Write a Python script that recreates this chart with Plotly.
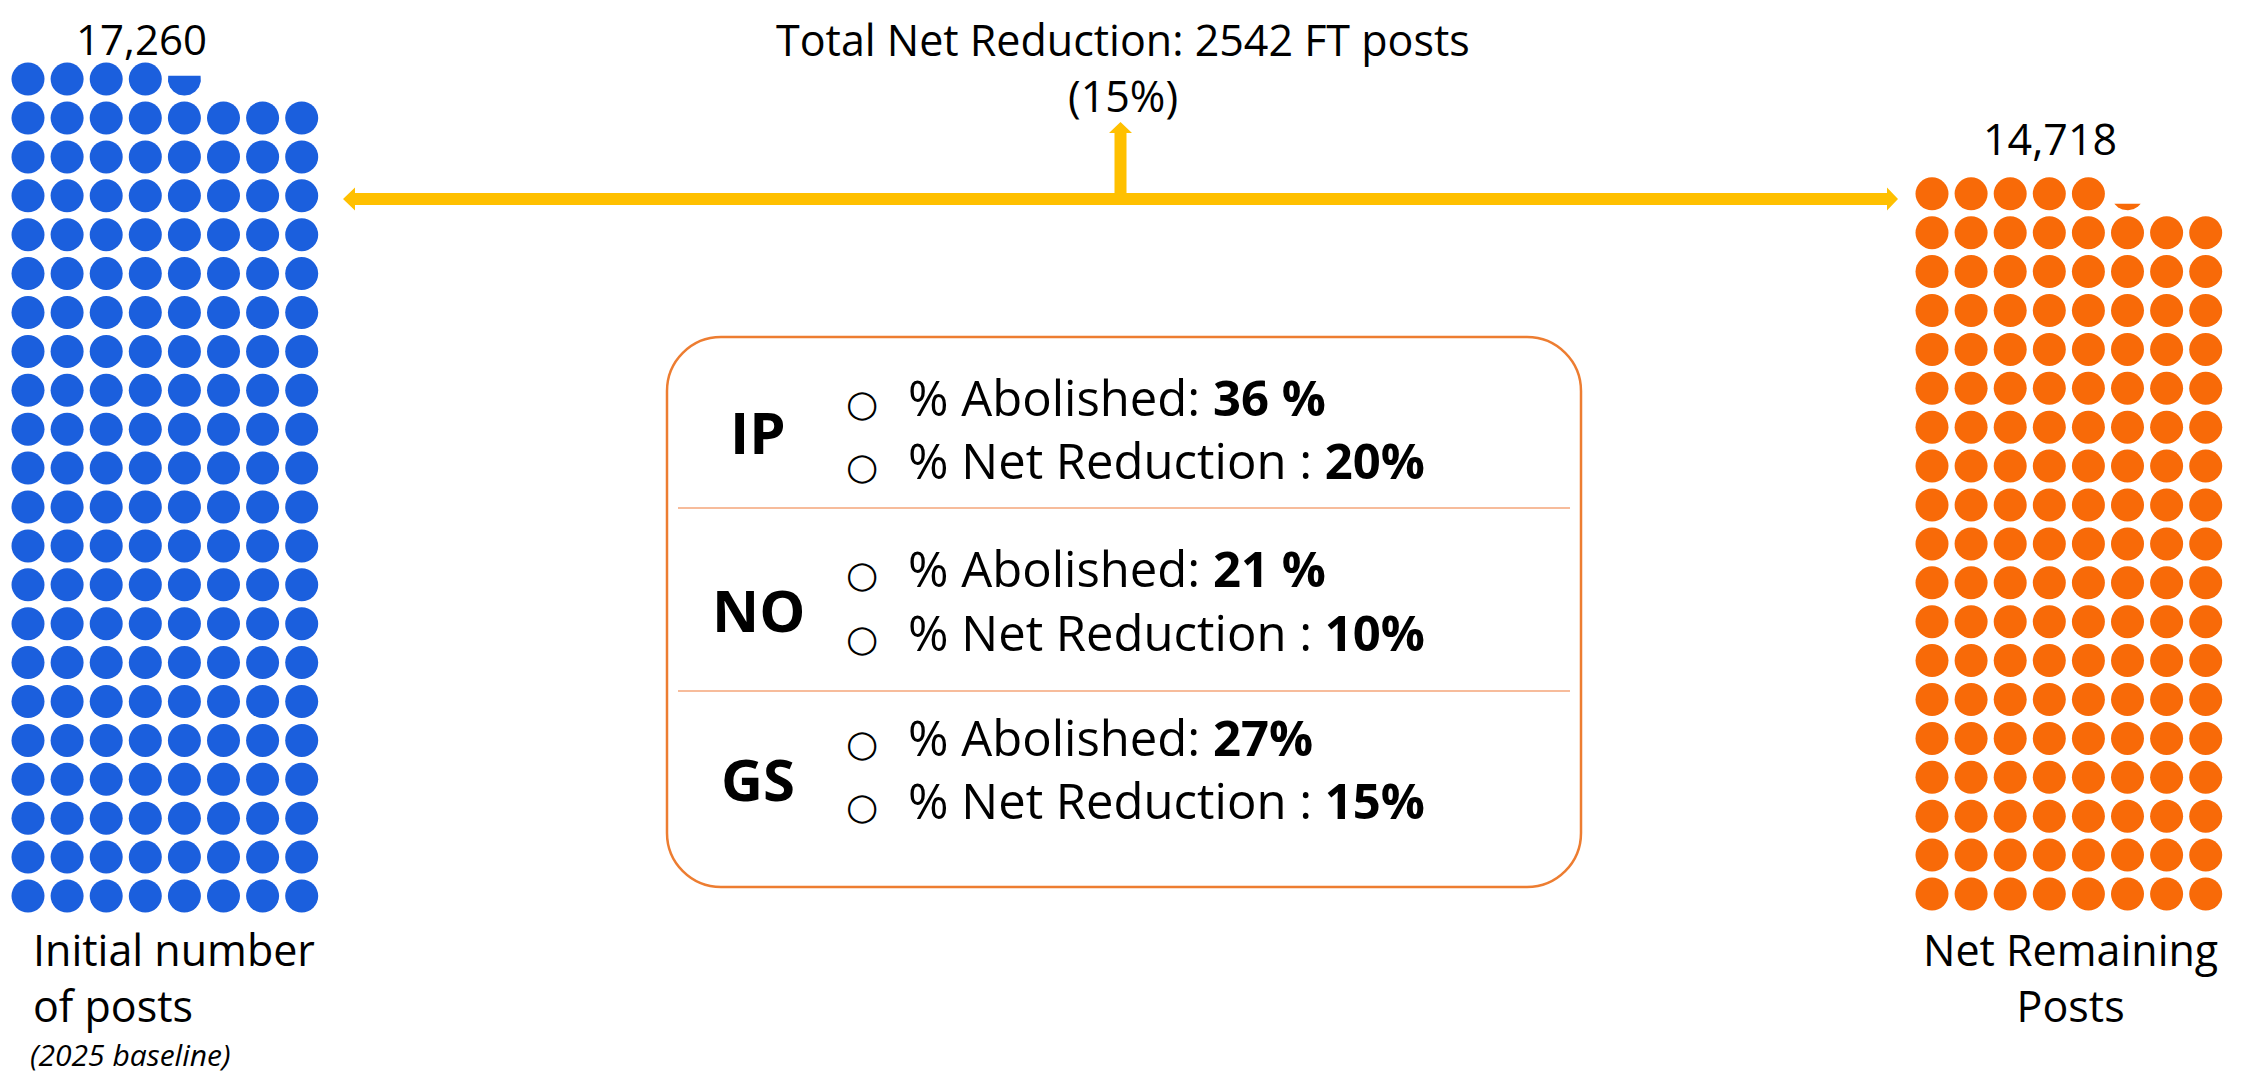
import math
import numpy as np
import plotly.graph_objects as go

# ---------------- data ----------------
initial_posts = 17260
remaining_posts = 14718
initial_dots = 172.6      # dots drawn for the initial waffle (as pictured)
remaining_dots = 149.2    # dots drawn for the remaining waffle (as pictured)
waffle_cols = 8

groups = ["IP", "NO", "GS"]
abolished_labels = ["36 %", "21 %", "27%"]
net_reduction_pct = [20, 10, 15]

left_label_lines = ["Initial number", "of posts"]
left_sub_label = "(2025 baseline)"
right_label_lines = ["Net Remaining", "Posts"]

# ---------------- style / layout ----------------
PAGE_W, PAGE_H = 2244, 1076
OFF = 8                      # default page body margin
W, H = PAGE_W - OFF, PAGE_H - OFF
FONT = "Open Sans"
BLUE = "#1B5FDD"
ORANGE = "#F86A08"
GOLD = "#FFC000"
BOX = "#ED7D31"
DIV = "#F4A67A"
DOT = 33
SPX, SPY = 39.1, 38.9

fig = go.Figure()

# base axis in page-pixel coordinates for decorations
fig.update_layout(
    width=W, height=H, margin=dict(l=0, r=0, t=0, b=0),
    paper_bgcolor="white", plot_bgcolor="white", showlegend=False,
    xaxis=dict(range=[OFF, OFF + W], domain=[0, 1], visible=False, fixedrange=True),
    yaxis=dict(range=[OFF + H, OFF], domain=[0, 1], visible=False, fixedrange=True),
)
fig.add_trace(go.Scatter(x=[OFF], y=[OFF], mode="markers", marker=dict(size=1, opacity=0),
                         hoverinfo="skip", showlegend=False))


def add_waffle(count, color, col0_px, bottom_px, ax):
    n_full = int(math.floor(count + 1e-9))
    frac = count - n_full
    n_rows = int(math.ceil(count / waffle_cols))
    xs = [k % waffle_cols for k in range(n_full)]
    ys = [k // waffle_cols for k in range(n_full)]
    xa, ya = f"x{ax}", f"y{ax}"
    fig.add_trace(go.Scatter(x=xs, y=ys, mode="markers",
                             marker=dict(size=DOT, color=color, line=dict(width=0)),
                             xaxis=xa, yaxis=ya, hoverinfo="skip", showlegend=False))
    if frac > 0.01:
        cx, cy = n_full % waffle_cols, n_full // waffle_cols
        rx, ry = DOT / 2 / SPX, DOT / 2 / SPY
        a = math.asin(-1 + 2 * frac)
        t = np.linspace(math.pi - a, 2 * math.pi + a, 80)
        fig.add_trace(go.Scatter(x=cx + rx * np.cos(t), y=cy + ry * np.sin(t),
                                 mode="lines", fill="toself", fillcolor=color,
                                 line=dict(width=0, color=color),
                                 xaxis=xa, yaxis=ya, hoverinfo="skip", showlegend=False))
    x_lo = col0_px - 0.5 * SPX - OFF
    x_hi = col0_px + (waffle_cols - 0.5) * SPX - OFF
    y_lo = bottom_px + 0.5 * SPY - OFF
    y_hi = bottom_px - (n_rows - 0.5) * SPY - OFF
    fig.update_layout(**{
        f"xaxis{ax}": dict(range=[-0.5, waffle_cols - 0.5], domain=[x_lo / W, x_hi / W],
                           visible=False, fixedrange=True, anchor=ya),
        f"yaxis{ax}": dict(range=[-0.5, n_rows - 0.5], domain=[1 - y_lo / H, 1 - y_hi / H],
                           visible=False, fixedrange=True, anchor=xa),
    })


add_waffle(initial_dots, BLUE, 28, 896, 2)
add_waffle(remaining_dots, ORANGE, 1932, 894, 3)

# ---------------- arrows ----------------
yc, hs, hh = 199, 6, 11.5
xl_tip, xl_base, xr_tip, xr_base = 343, 355, 1898, 1887
h_path = (f"M {xl_tip},{yc} L {xl_base},{yc-hh} L {xl_base},{yc-hs} L {xr_base},{yc-hs} "
          f"L {xr_base},{yc-hh} L {xr_tip},{yc} L {xr_base},{yc+hh} L {xr_base},{yc+hs} "
          f"L {xl_base},{yc+hs} L {xl_base},{yc+hh} Z")
xc = (xl_tip + xr_tip) / 2
v_path = (f"M {xc-hs},{yc} L {xc-hs},133 L {xc-hh},133 L {xc},122 L {xc+hh},133 "
          f"L {xc+hs},133 L {xc+hs},{yc} Z")
for p in (h_path, v_path):
    fig.add_shape(type="path", path=p, xref="x", yref="y", fillcolor=GOLD,
                  line=dict(width=0))

# ---------------- rounded box ----------------
x0, y0, x1, y1, r = 667, 337, 1581, 887, 54
k = 0.5523 * r
box_path = (f"M {x0+r},{y0} L {x1-r},{y0} C {x1-r+k},{y0} {x1},{y0+r-k} {x1},{y0+r} "
            f"L {x1},{y1-r} C {x1},{y1-r+k} {x1-r+k},{y1} {x1-r},{y1} "
            f"L {x0+r},{y1} C {x0+r-k},{y1} {x0},{y1-r+k} {x0},{y1-r} "
            f"L {x0},{y0+r} C {x0},{y0+r-k} {x0+r-k},{y0} {x0+r},{y0} Z")
fig.add_shape(type="path", path=box_path, xref="x", yref="y",
              line=dict(color=BOX, width=2.5), fillcolor="rgba(0,0,0,0)")
for yd in (508, 691):
    fig.add_shape(type="line", x0=678, x1=1570, y0=yd, y1=yd, xref="x", yref="y",
                  line=dict(color=DIV, width=1.5))


def txt(x, y, s, size, xanchor="center", bold=False, italic=False, family=FONT,
        align="center"):
    if bold:
        s = f"<b>{s}</b>"
    if italic:
        s = f"<i>{s}</i>"
    fig.add_annotation(x=x, y=y, xref="x", yref="y", text=s, showarrow=False,
                       xanchor=xanchor, yanchor="middle", align=align,
                       font=dict(family=family, size=size, color="black"))


# ---------------- texts ----------------
reduction = initial_posts - remaining_posts
pct = round(reduction / initial_posts * 100)
txt(1123, 39, f"Total Net Reduction: {reduction} FT posts", 43)
txt(1123, 95, f"({pct}%)", 43)
txt(141, 38, f"{initial_posts:,}", 42)
txt(2050, 138, f"{remaining_posts:,}", 43)

txt(31, 977, "<br>".join(left_label_lines), 43, xanchor="left", align="left")
txt(28, 1054.5, left_sub_label, 30, xanchor="left", italic=True)
txt(2070, 977, "<br>".join(right_label_lines), 43)

group_y = [431, 609, 778]
line1_y = [397, 568, 737]
line2_y = [460, 632, 800]
for g, ab, nr, gy, l1, l2 in zip(groups, abolished_labels, net_reduction_pct,
                                  group_y, line1_y, line2_y):
    txt(758, gy, g, 58, bold=True)
    txt(862, l1 + 6, "○", 37, family="DejaVu Sans")
    txt(862, l2 + 6, "○", 37, family="DejaVu Sans")
    txt(906, l1, f"% Abolished: <b>{ab}</b>", 49, xanchor="left")
    txt(906, l2, f"% Net Reduction : <b>{nr}%</b>", 49, xanchor="left")

fig.write_html("out.html")
